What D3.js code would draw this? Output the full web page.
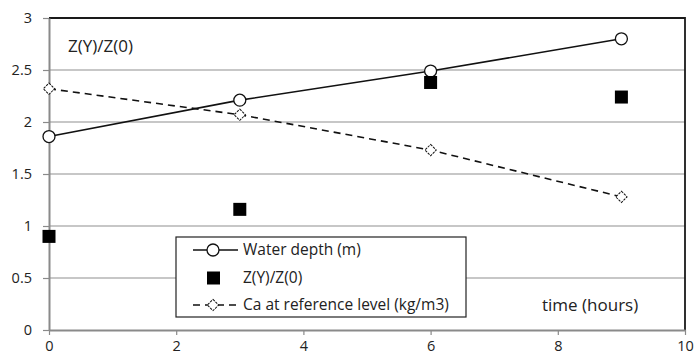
<!DOCTYPE html>
<html>
<head>
<meta charset="utf-8">
<script src="https://cdn.jsdelivr.net/npm/d3@7"></script>
<style>
  body { margin: 0; background: #fff; }
  .chartlabel { font-family: "Open Sans", Lato, sans-serif; fill: #222; }
</style>
</head>
<body>
<div id="chart"></div>
<script>
// data
const timeHours = [0, 3, 6, 9];
const waterDepth = [1.86, 2.21, 2.49, 2.80];
const zRatio = [0.90, 1.16, 2.38, 2.24];
const caRef = [2.32, 2.07, 1.73, 1.28];
const xTicks = [0, 2, 4, 6, 8, 10];
const yTicks = [0, 0.5, 1, 1.5, 2, 2.5, 3];
const legendNames = ['Water depth (m)', 'Z(Y)/Z(0)', 'Ca at reference level (kg/m3)'];

const width = 695, height = 357;
const margin = { top: 18, right: 10, bottom: 27, left: 49 };

const svg = d3.select('#chart').append('svg')
  .attr('width', width)
  .attr('height', height);

const xScale = d3.scaleLinear().domain([0, 10]).range([margin.left, width - margin.right]);
const yScale = d3.scaleLinear().domain([0, 3]).range([height - margin.bottom, margin.top]);

// grid lines
svg.append('g')
  .selectAll('line')
  .data(yTicks.filter(d => d > 0 && d < 3))
  .enter()
  .append('line')
  .attr('x1', xScale(0)).attr('x2', xScale(10))
  .attr('y1', d => yScale(d)).attr('y2', d => yScale(d))
  .attr('stroke', '#b4b4b4')
  .attr('stroke-width', 1.5);

// top + right border
svg.append('path')
  .attr('d', `M${xScale(0)},${yScale(3)}H${xScale(10)}V${yScale(0)}`)
  .attr('fill', 'none')
  .attr('stroke', '#1a1a1a')
  .attr('stroke-width', 1.8);

// axes
const xAxis = svg.append('g')
  .attr('transform', `translate(0,${yScale(0)})`)
  .call(d3.axisBottom(xScale).tickValues(xTicks).tickSizeInner(5).tickSizeOuter(0).tickPadding(6));

const yAxis = svg.append('g')
  .attr('transform', `translate(${xScale(0)},0)`)
  .call(d3.axisLeft(yScale).tickValues(yTicks).tickFormat(d3.format('')).tickSizeInner(6).tickSizeOuter(0).tickPadding(11));

[xAxis, yAxis].forEach(ax => {
  ax.select('.domain').attr('stroke', '#8a8a8a').attr('stroke-width', 2);
  ax.selectAll('.tick line').attr('stroke', '#8a8a8a').attr('stroke-width', 1.2);
  ax.selectAll('.tick text')
    .attr('class', 'chartlabel')
    .style('font-size', '14.5px')
    .style('fill', '#222');
});

// water depth line
const line = d3.line().x((d, i) => xScale(timeHours[i])).y(d => yScale(d));

svg.append('path')
  .datum(waterDepth)
  .attr('d', line)
  .attr('fill', 'none')
  .attr('stroke', '#111')
  .attr('stroke-width', 1.6);

// Ca line (dashed)
svg.append('path')
  .datum(caRef)
  .attr('d', line)
  .attr('fill', 'none')
  .attr('stroke', '#111')
  .attr('stroke-width', 1.6)
  .attr('stroke-dasharray', '7,5');

svg.selectAll('circle.wd')
  .data(waterDepth)
  .enter()
  .append('circle')
  .attr('class', 'wd')
  .attr('cx', (d, i) => xScale(timeHours[i]))
  .attr('cy', d => yScale(d))
  .attr('r', 6)
  .attr('fill', '#fff')
  .attr('stroke', '#111')
  .attr('stroke-width', 1.3);

// diamond = rotated square
const diamond = d3.symbol().type(d3.symbolSquare).size(64);
svg.selectAll('path.ca')
  .data(caRef)
  .enter()
  .append('path')
  .attr('class', 'ca')
  .attr('d', diamond)
  .attr('transform', (d, i) => `translate(${xScale(timeHours[i])},${yScale(d)}) rotate(45)`)
  .attr('fill', '#fff')
  .attr('stroke', '#111')
  .attr('stroke-width', 1)
  .attr('stroke-dasharray', '2.5,1');

svg.selectAll('rect.z')
  .data(zRatio)
  .enter()
  .append('rect')
  .attr('class', 'z')
  .attr('x', (d, i) => xScale(timeHours[i]) - 6.5)
  .attr('y', d => yScale(d) - 6.5)
  .attr('width', 13)
  .attr('height', 13)
  .attr('fill', '#000');

// labels inside plot
svg.append('text')
  .attr('class', 'chartlabel')
  .attr('x', 68).attr('y', 52)
  .style('font-size', '17px')
  .text('Z(Y)/Z(0)');

svg.append('text')
  .attr('class', 'chartlabel')
  .attr('x', 542).attr('y', 311)
  .style('font-size', '17px')
  .text('time (hours)');

// legend
const legend = svg.append('g').attr('transform', 'translate(176,237)');
legend.append('rect')
  .attr('width', 290).attr('height', 80)
  .attr('fill', '#fff')
  .attr('stroke', '#222')
  .attr('stroke-width', 1.2);

const rowY = [13, 41, 68];
legendNames.forEach((name, i) => {
  const g = legend.append('g').attr('transform', `translate(0,${rowY[i]})`);
  if (i === 0) {
    g.append('line').attr('x1', 17).attr('x2', 62).attr('stroke', '#111').attr('stroke-width', 1.6);
    g.append('circle').attr('cx', 37).attr('r', 6).attr('fill', '#fff').attr('stroke', '#111').attr('stroke-width', 1.3);
  } else if (i === 1) {
    g.append('rect').attr('x', 31).attr('y', -6.5).attr('width', 13).attr('height', 13).attr('fill', '#000');
  } else {
    g.append('line').attr('x1', 17).attr('x2', 62).attr('stroke', '#111').attr('stroke-width', 1.6).attr('stroke-dasharray', '7,5');
    g.append('path').attr('d', diamond).attr('transform', 'translate(37,0) rotate(45)')
      .attr('fill', '#fff').attr('stroke', '#111').attr('stroke-width', 1).attr('stroke-dasharray', '2.5,1');
  }
  g.append('text')
    .attr('class', 'chartlabel')
    .attr('x', 67).attr('dy', '0.35em')
    .style('font-size', '15.5px')
    .text(name);
});
</script>
</body>
</html>
